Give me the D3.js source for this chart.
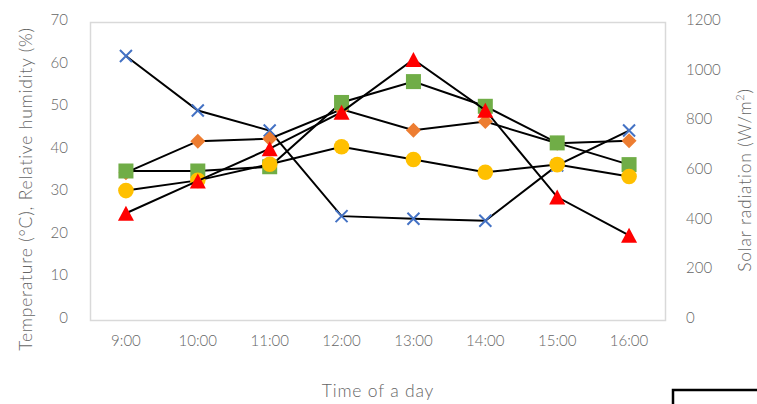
<!DOCTYPE html>
<html>
<head>
<meta charset="utf-8">
<script src="https://cdn.jsdelivr.net/npm/d3@7"></script>
<style>
  html, body { margin: 0; padding: 0; background: #fff; }
  svg { display: block; }
  text { font-family: Lato, "Open Sans", sans-serif; font-weight: 300; fill: #666; }
  .title { font-size: 17.5px; letter-spacing: 0.8px; }
</style>
</head>
<body>
<svg id="chart" width="757" height="404"></svg>
<script>
// Hourly readings, 9:00 to 16:00
const times = ["9:00", "10:00", "11:00", "12:00", "13:00", "14:00", "15:00", "16:00"];

// Left axis (°C / %)
const humidity = [62.0, 49.2, 44.5, 24.4, 23.8, 23.3, 36.3, 44.5];
const tempA    = [34.6, 42.0, 42.6, 49.5, 44.6, 46.6, 41.5, 42.1];
const tempB    = [35.0, 35.0, 36.0, 51.1, 56.0, 50.2, 41.6, 36.5];
const tempC    = [30.4, 32.8, 36.6, 40.7, 37.7, 34.7, 36.5, 33.7];

// Right axis (W/m²)
const solar    = [430, 560, 690, 837, 1049, 845, 495, 341];

const leftTicks  = [0, 10, 20, 30, 40, 50, 60, 70];
const rightTicks = [0, 200, 400, 600, 800, 1000, 1200];

const svg = d3.select("#chart");
const plot = { left: 90, right: 665, top: 22, bottom: 320 };

const x = d3.scaleBand().domain(times).range([plot.left, plot.right]).padding(0);
const yL = d3.scaleLinear().domain([0, 70]).range([plot.bottom, plot.top]);
const yR = d3.scaleLinear().domain([0, 1200]).range([plot.bottom, plot.top]);
const cx = t => x(t) + x.bandwidth() / 2;

// plot frame
svg.append("rect")
  .attr("x", plot.left + 0.5).attr("y", plot.top + 0.5)
  .attr("width", plot.right - plot.left).attr("height", plot.bottom - plot.top)
  .attr("fill", "none").attr("stroke", "#d9d9d9").attr("stroke-width", 1.5);

// axes (labels only)
const axL = svg.append("g").attr("transform", `translate(${plot.left - 22},0)`)
  .call(d3.axisLeft(yL).tickValues(leftTicks).tickFormat(d3.format("d")).tickSize(0).tickPadding(0));
const axR = svg.append("g").attr("transform", `translate(${plot.right + 21},0)`)
  .call(d3.axisRight(yR).tickValues(rightTicks).tickFormat(d3.format("d")).tickSize(0).tickPadding(0));
const axB = svg.append("g").attr("transform", `translate(0,${plot.bottom + 12})`)
  .call(d3.axisBottom(x).tickSize(0).tickPadding(0));
[axL, axR, axB].forEach(a => {
  a.select(".domain").remove();
  a.selectAll("text").attr("font-size", 15).attr("font-family", null).attr("fill", "#666");
});
axL.selectAll("text").attr("dy", "0.3em").attr("y", -2);
axR.selectAll("text").attr("dy", "0.3em").attr("y", -2);
axB.selectAll("text").attr("dy", "0.9em");

// axis titles
svg.append("text").attr("class", "title").attr("x", 378).attr("y", 397)
  .attr("text-anchor", "middle").text("Time of a day");
svg.append("text").attr("class", "title").attr("transform", "translate(32,189) rotate(-90)")
  .attr("text-anchor", "middle")
  .text("Temperature (°C), Relative humidity (%)");
const rt = svg.append("text").attr("class", "title")
  .attr("transform", "translate(751,180) rotate(-90)")
  .attr("text-anchor", "middle");
rt.append("tspan").text("Solar radiation (W/m");
rt.append("tspan").attr("font-size", 11).attr("dy", "-0.6em").text("2");
rt.append("tspan").attr("dy", "0.4em").text(")");

// marker shapes
const markers = {
  cross: (g, c) => g.append("path").attr("d", "M-6,-6L6,6M-6,6L6,-6")
    .attr("stroke", c).attr("stroke-width", 2).attr("fill", "none"),
  diamond: (g, c) => g.append("path").attr("d", "M0,-7.5L7.5,0L0,7.5L-7.5,0Z").attr("fill", c),
  square: (g, c) => g.append("rect").attr("x", -7.5).attr("y", -7.5)
    .attr("width", 15).attr("height", 15).attr("fill", c),
  circle: (g, c) => g.append("circle").attr("r", 7.8).attr("fill", c),
  triangle: (g, c) => g.append("path").attr("d", "M0,-7.5L8,7.5L-8,7.5Z").attr("fill", c)
};

const series = [
  { values: humidity, y: yL, color: "#4472c4", marker: "cross" },
  { values: tempA,    y: yL, color: "#ed7d31", marker: "diamond" },
  { values: tempB,    y: yL, color: "#70ad47", marker: "square" },
  { values: tempC,    y: yL, color: "#ffc000", marker: "circle" },
  { values: solar,    y: yR, color: "#ff0000", marker: "triangle" }
];

series.forEach(s => {
  const pts = s.values.map((v, i) => [cx(times[i]), s.y(v)]);
  svg.append("path").attr("d", d3.line()(pts))
    .attr("fill", "none").attr("stroke", "#000").attr("stroke-width", 2);
  pts.forEach(p => {
    const g = svg.append("g").attr("transform", `translate(${p[0]},${p[1]})`);
    markers[s.marker](g, s.color);
  });
});

// legend box edge
svg.append("path").attr("d", "M673,404V390H757")
  .attr("fill", "none").attr("stroke", "#000").attr("stroke-width", 2.5);
</script>
</body>
</html>
